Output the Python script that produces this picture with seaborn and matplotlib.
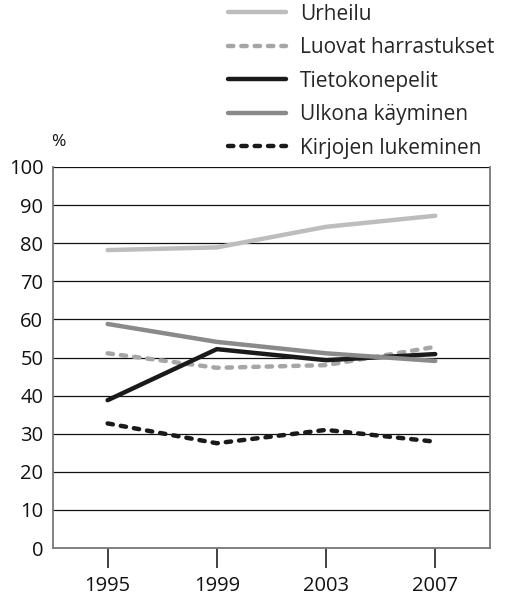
import matplotlib
matplotlib.use("Agg")
import matplotlib.pyplot as plt
import seaborn as sns
import pandas as pd

years = ["1995", "1999", "2003", "2007"]
urheilu = [78.2, 78.9, 84.3, 87.2]
luovat = [51.1, 47.3, 48.0, 52.8]
tietokonepelit = [38.8, 52.2, 49.3, 50.9]
ulkona = [58.8, 54.1, 51.1, 49.1]
kirjojen = [32.7, 27.5, 31.0, 27.9]
series_names = ["Urheilu", "Luovat harrastukset", "Tietokonepelit",
                "Ulkona käyminen", "Kirjojen lukeminen"]
series_values = [urheilu, luovat, tietokonepelit, ulkona, kirjojen]
yticks = [0, 10, 20, 30, 40, 50, 60, 70, 80, 90, 100]

sns.set_theme(style="white")
plt.rcParams['font.family'] = ['Open Sans', 'DejaVu Sans']

colors = ["#bdbdbd", "#a6a6a6", "#1a1a1a", "#8a8a8a", "#1a1a1a"]
dashed = [False, True, False, False, True]

fig = plt.figure(figsize=(5.05, 5.96), dpi=100)
ax = fig.add_axes([0.105, 0.0805, 0.865, 0.6393])

for name, vals, c, d in zip(series_names, series_values, colors, dashed):
    df = pd.DataFrame({"year": years, "value": vals})
    sns.lineplot(data=df, x="year", y="value", ax=ax, color=c, lw=3.2,
                 label=name, legend=False, sort=False)
    line = ax.lines[-1]
    line.set_solid_capstyle("round")
    line.set_solid_joinstyle("round")
    if d:
        line.set_dashes((1.2, 1.8))
        line.set_dash_capstyle("round")
        line.set_dash_joinstyle("round")

ax.set_xlim(-0.5, 3.5)
ax.set_ylim(0, 100)
ax.set_yticks(yticks)
ax.set_yticklabels([str(v) for v in yticks], fontsize=14.5)
ax.set_xlabel("")
ax.set_ylabel("")
for v in yticks[1:]:
    ax.axhline(v, color="#111111", lw=0.9, zorder=0)

for s in ["left", "right", "bottom"]:
    ax.spines[s].set_color("#777777")
    ax.spines[s].set_linewidth(1.3)
ax.spines["top"].set_visible(False)

ax.tick_params(axis="y", length=0, pad=7, labelsize=14.5, colors="#111111")
ax.tick_params(axis="x", length=14.5, width=1.3, color="#333333", pad=6,
               labelsize=14.5, labelcolor="#111111", direction="out")
ax.tick_params(axis="x", bottom=True)

ax.text(-0.52, 104.5, "%", fontsize=12.5, color="#111111", ha="left", va="bottom")

handles = ax.lines[:5]
fig.legend(handles, series_names, loc="upper left", bbox_to_anchor=(0.435, 1.008),
           frameon=False, fontsize=15, handlelength=2.8, handletextpad=0.65,
           labelspacing=0.6, borderaxespad=0.0)

fig.savefig("out.png", dpi=100)
